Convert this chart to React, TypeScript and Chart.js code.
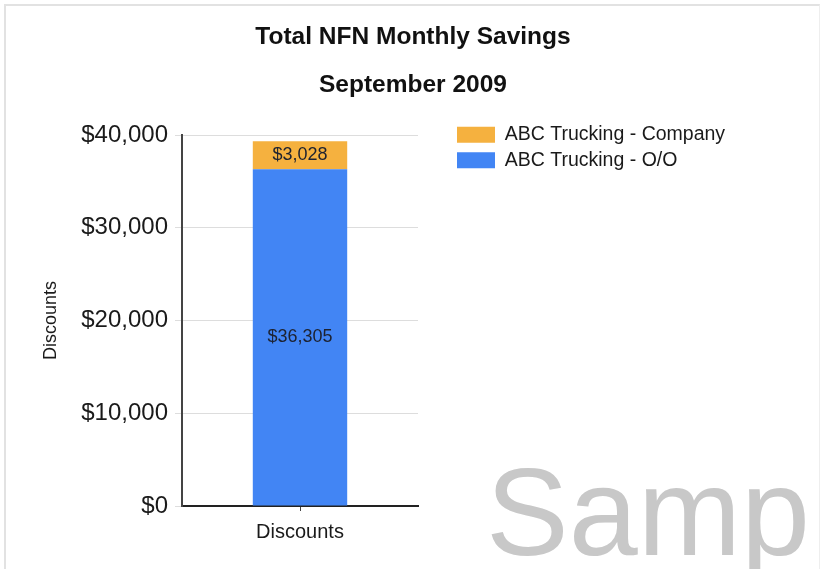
import React, { useEffect, useRef } from 'react';
import { Chart, registerables } from 'chart.js';

Chart.register(...registerables);

// ---- data ----
const categories = ['Discounts'];
const seriesNames = ['ABC Trucking - O/O', 'ABC Trucking - Company'];
const ooValues = [36305];
const companyValues = [3028];
const seriesColors = ['#4285f4', '#f5b13f'];
const yMin = 0;
const yMax = 40000;
const yStep = 10000;
const titleText = 'Total NFN Monthly Savings';
const subtitleText = 'September 2009';
const yAxisTitle = 'Discounts';
const watermarkText = 'Samp';

const FONT = "'Liberation Sans', Arial, Helvetica, sans-serif";
const money = (v: number) => '$' + Math.round(Number(v)).toLocaleString('en-US');

const valueLabels = {
  id: 'valueLabels',
  afterDatasetsDraw(chart: any) {
    const ctx = chart.ctx;
    ctx.save();
    ctx.font = `18px ${FONT}`;
    ctx.fillStyle = '#1d2230';
    ctx.textAlign = 'center';
    ctx.textBaseline = 'middle';
    chart.data.datasets.forEach((ds: any, i: number) => {
      const meta = chart.getDatasetMeta(i);
      if (meta.hidden) return;
      meta.data.forEach((el: any, j: number) => {
        const p = el.getCenterPoint();
        ctx.fillText(money(ds.data[j]), p.x, p.y);
      });
    });
    ctx.restore();
  },
};

const legendPlacer = {
  id: 'legendPlacer',
  afterLayout(chart: any) {
    const lg = chart.legend;
    if (!lg) return;
    const ca = chart.chartArea;
    lg.left = ca.right + 33;
    lg.right = chart.width;
    lg.width = lg.right - lg.left;
    lg.top = ca.top - 16;
    lg.bottom = chart.height;
    lg.height = lg.bottom - lg.top;
  },
};

const watermark = {
  id: 'watermark',
  afterDraw(chart: any) {
    const ctx = chart.ctx;
    ctx.save();
    ctx.font = `124px ${FONT}`;
    ctx.fillStyle = '#c8c8c8';
    ctx.textAlign = 'left';
    ctx.textBaseline = 'alphabetic';
    ctx.fillText(watermarkText, 486, 555);
    ctx.restore();
  },
};

export default function App() {
  const ref = useRef<HTMLCanvasElement | null>(null);

  useEffect(() => {
    if (!ref.current) return;
    Chart.defaults.font.family = FONT;
    const chart = new Chart(ref.current, {
      type: 'bar',
      data: {
        labels: categories,
        datasets: [
          {
            label: seriesNames[0],
            data: ooValues,
            backgroundColor: seriesColors[0],
            borderWidth: 0,
            barPercentage: 0.4,
            categoryPercentage: 1,
          },
          {
            label: seriesNames[1],
            data: companyValues,
            backgroundColor: seriesColors[1],
            borderWidth: 0,
            barPercentage: 0.4,
            categoryPercentage: 1,
          },
        ],
      },
      options: {
        responsive: false,
        animation: false,
        devicePixelRatio: 1,
        layout: { padding: { left: 5, right: 0, top: 0, bottom: 0 } },
        plugins: {
          title: {
            display: true,
            text: titleText,
            color: '#111',
            font: { size: 24.5, weight: 'bold' },
            padding: { top: 22.3, bottom: 18.6 },
          },
          subtitle: {
            display: true,
            text: subtitleText,
            color: '#111',
            font: { size: 24.5, weight: 'bold' },
            padding: { top: 0, bottom: 35.3 },
          },
          legend: {
            display: true,
            position: 'right',
            align: 'start',
            reverse: true,
            maxWidth: 60,
            labels: {
              boxWidth: 38,
              boxHeight: 16,
              padding: 6,
              color: '#1a1a1a',
              font: { size: 19.5 },
            },
          },
          tooltip: { enabled: false },
        },
        scales: {
          x: {
            stacked: true,
            afterFit: (s: any) => { s.height = 63; },
            ticks: { color: '#1a1a1a', font: { size: 20 }, padding: 9 },
            grid: { display: true, drawOnChartArea: false, offset: false, tickLength: 5, color: '#444', lineWidth: 1 },
            border: { display: true, color: '#222', width: 2 },
          },
          y: {
            stacked: true,
            min: yMin,
            max: yMax,
            afterFit: (s: any) => { s.width = 177; },
            ticks: { stepSize: yStep, color: '#1a1a1a', font: { size: 24 }, padding: 7, callback: (v: any) => money(v) },
            grid: { color: '#dddddd', lineWidth: 1, tickLength: 7 },
            border: { display: true, color: '#444', width: 2 },
            title: { display: true, text: yAxisTitle, color: '#1a1a1a', font: { size: 18 }, padding: { top: 35.2, bottom: 0 } },
          },
          yR: {
            type: 'linear',
            position: 'right',
            display: true,
            min: 0,
            max: 1,
            afterFit: (s: any) => { s.width = 343; },
            ticks: { display: false },
            grid: { display: false, drawTicks: false },
            border: { display: false },
          },
        },
      } as any,
      plugins: [valueLabels, legendPlacer, watermark],
    });
    return () => chart.destroy();
  }, []);

  return (
    <div style={{ position: 'absolute', left: 0, top: 0, width: 821, height: 569, overflow: 'hidden', background: '#fff' }}>
      <canvas ref={ref} width={821} height={569} style={{ display: 'block', width: 821, height: 569 }} />
      <div
        style={{
          position: 'absolute',
          left: 4,
          top: 4,
          width: 813,
          height: 600,
          borderTop: '2px solid #e2e2e2',
          borderLeft: '2px solid #e2e2e2',
          borderRight: '1px solid #eeeeee',
          pointerEvents: 'none',
        }}
      />
    </div>
  );
}
